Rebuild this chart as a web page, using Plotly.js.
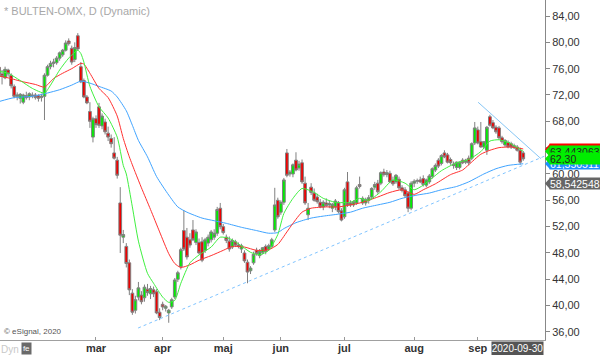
<!DOCTYPE html>
<html>
<head>
<meta charset="utf-8">
<script src="https://cdn.plot.ly/plotly-3.0.1.min.js"></script>
<style>html,body{margin:0;padding:0;background:#fff;}#chart{width:600px;height:355px;}</style>
</head>
<body>
<div id="chart"></div>
<script>
// Trading-day index: 0 = 2020-03-02 (first day of March); negative = Jan/Feb 2020
const firstIndex = -32;
const openP = [76.2,75.2,74.6,75.8,75.0,73.3,71.8,71.5,70.9,71.9,71.7,72.0,72.0,71.9,71.6,71.8,75.0,76.3,76.8,76.9,77.6,78.1,78.8,80.2,79.1,77.4,81.0,76.3,74.2,71.7,69.5,65.6,
68.4,70.2,67.3,67.9,66.2,65.4,63.2,62.1,55.6,50.4,49.0,46.5,41.9,39.3,41.3,41.6,41.2,42.5,41.8,42.4,42.1,39.0,40.2,39.6,38.9,39.8,41.3,44.0,45.9,
51.4,50.4,50.0,51.5,49.6,49.6,49.7,48.4,49.5,50.0,50.4,51.0,54.8,52.0,50.4,49.8,48.9,49.7,49.2,48.6,48.0,46.6,45.3,46.5,48.4,47.6,48.1,49.0,48.6,49.0,
51.5,56.0,54.2,55.7,63.2,60.0,60.0,62.1,60.9,61.7,58.6,53.8,58.0,57.1,56.5,55.7,55.0,55.6,55.3,54.8,55.0,55.6,54.4,
53.5,58.8,55.6,55.3,55.6,58.4,55.6,55.6,56.0,56.5,58.0,58.6,58.6,60.3,59.9,60.1,59.0,58.8,59.2,57.9,57.6,57.1,54.8,
58.6,58.9,59.1,59.3,58.3,58.8,59.6,60.6,62.1,61.6,63.2,62.9,62.2,61.5,61.0,61.0,62.1,61.8,62.4,62.4,64.7,
66.7,64.9,64.1,63.6,68.7,67.8,67.1,67.0,65.5,64.4,64.8,64.6,64.3,64.1,63.6,63.2];
const highP = [76.6,75.8,76.3,76.0,75.3,73.6,72.4,72.3,72.2,72.5,72.4,72.4,72.3,72.1,72.2,75.3,76.6,77.2,77.5,77.9,78.6,79.0,80.3,80.6,79.5,80.0,81.4,77.0,74.5,72.0,70.9,68.7,
68.9,70.8,69.2,68.4,67.2,66.0,65.6,62.6,58.0,51.5,49.5,47.0,42.5,41.5,43.6,42.2,43.2,43.3,43.0,42.9,42.5,39.6,40.6,40.1,39.5,41.2,44.2,45.3,48.8,
54.5,51.8,51.0,53.0,51.6,50.2,50.4,50.3,50.8,51.5,51.6,55.0,55.6,52.4,50.8,50.5,50.2,50.0,49.6,49.4,48.4,47.0,46.0,48.2,48.8,48.6,48.9,49.3,49.4,50.3,
57.9,56.4,56.0,59.4,63.8,60.6,61.6,63.3,62.0,62.2,59.6,55.6,58.6,57.8,57.0,56.2,56.0,56.3,56.0,55.6,56.2,55.9,54.8,
57.9,60.3,56.0,56.0,58.2,59.6,56.6,56.4,56.8,58.0,58.8,59.1,60.4,60.8,60.6,60.5,59.6,60.0,59.6,58.3,58.0,57.4,58.9,
59.2,59.3,59.6,59.8,59.3,60.0,61.0,61.6,62.4,63.0,63.6,63.2,62.5,61.9,61.9,61.9,62.4,62.3,62.8,64.8,67.9,
67.2,67.9,65.0,67.3,69.0,68.2,67.4,67.3,65.8,65.3,65.1,64.9,64.6,64.4,64.0,63.5];
const lowP = [74.9,73.6,74.4,74.8,73.0,71.5,71.2,70.7,70.6,71.3,71.2,71.5,71.3,71.0,71.0,68.2,74.8,75.9,76.2,76.6,77.2,77.8,78.6,79.5,76.6,77.0,78.7,73.8,71.5,70.6,67.0,64.8,
67.0,67.0,66.8,66.0,65.0,64.0,62.2,59.3,48.0,49.5,45.8,41.6,38.6,38.8,40.8,40.2,40.6,41.5,41.0,41.3,38.7,37.8,39.3,39.1,37.4,39.5,41.0,43.6,45.5,
48.3,47.0,48.8,49.8,49.2,47.8,46.6,48.0,49.0,49.6,50.0,50.6,51.6,50.8,49.5,48.2,48.6,48.9,48.7,48.0,46.5,43.4,44.8,46.2,47.6,47.2,47.8,47.8,48.3,48.8,
51.2,53.2,53.8,55.3,59.5,59.6,59.5,60.4,60.5,58.5,55.3,53.0,56.8,55.8,55.5,54.8,54.5,55.0,54.8,54.2,54.5,54.0,52.8,
53.2,55.0,55.0,55.0,55.3,57.8,55.3,55.2,55.5,56.2,57.6,57.0,58.3,59.6,59.5,58.6,58.2,58.5,57.6,57.2,56.4,54.2,54.5,
58.0,58.5,58.6,58.1,58.0,58.5,59.3,60.3,60.9,61.3,62.4,61.6,61.4,60.8,60.6,60.7,61.5,61.5,61.3,62.1,64.4,
64.5,64.0,63.8,62.9,67.2,66.8,66.1,65.2,64.6,64.1,63.9,63.8,63.8,63.4,61.4,62.0];
const closeP = [75.2,74.8,75.9,75.2,73.4,71.8,72.0,72.1,72.0,71.6,72.2,71.9,71.6,71.5,71.8,75.0,76.3,76.8,77.0,77.6,78.4,78.8,79.9,79.8,77.0,79.2,79.0,74.0,71.7,70.8,68.0,68.4,
67.5,67.4,68.8,66.4,65.6,64.6,62.4,59.8,50.7,50.8,46.4,42.4,39.0,40.9,42.7,40.6,42.8,42.0,42.6,41.8,38.9,38.2,39.8,39.9,39.3,40.9,43.9,45.0,48.5,
48.6,47.4,49.2,50.0,51.2,48.0,46.9,50.0,50.4,51.2,51.0,54.6,52.0,51.1,49.9,48.6,49.9,49.2,49.0,49.1,46.8,45.1,45.7,47.8,47.9,48.3,48.8,48.2,49.1,50.0,
55.3,53.5,55.7,59.1,59.8,60.3,61.4,60.6,61.5,58.8,55.6,54.8,57.2,56.0,55.8,55.0,55.7,55.2,55.5,55.4,55.9,54.3,53.0,
57.6,55.3,55.3,55.8,57.9,58.1,56.3,56.1,56.4,57.8,58.4,57.3,60.2,59.9,60.2,58.8,58.5,59.8,57.9,57.5,56.7,54.8,58.6,
58.9,59.0,58.8,58.4,59.1,59.7,60.8,61.3,61.2,62.8,62.6,61.8,61.7,61.3,61.8,61.8,61.7,62.1,61.7,64.6,67.0,
64.7,64.1,64.9,67.1,67.4,67.0,66.4,65.5,64.9,65.1,64.1,64.1,64.0,63.6,61.8,62.3];

// Moving averages (index, value)
const greenMaIdx = [-32,-29,-25,-21,-17,-15,-12,-9,-6,-5,-4,-2,1,4,7,9,10,12,14,17,19,22,24,26,28,31,34,38,41,44,47,51,54,57,60,62,65,68,72,75,79,84,87,90,94,98,102,105,108,111,114,119,123,127,130,133,136,141];
const greenMaVal = [75.6,75.3,74.2,73.0,72.3,73.5,75.8,77.6,78.8,78.3,77.0,73.3,70.2,68.5,65.6,61.3,60.0,55.0,49.8,44.9,43.4,41.3,40.5,40.8,43.4,46.5,47.7,48.9,50.4,50.2,49.4,48.1,47.7,48.4,50.8,54.0,56.3,57.8,57.2,56.3,55.7,55.7,56.3,56.0,57.3,59.1,58.6,57.6,58.3,59.4,60.5,61.7,62.2,63.4,65.0,65.2,64.8,63.44];
const redMaIdx = [-32,-29,-24,-20,-17,-14,-11,-8,-5,-4,-2,1,4,7,9,11,13,15,18,21,24,26,28,31,34,38,42,45,49,53,57,60,63,65,68,71,76,80,84,88,93,97,101,105,108,112,117,121,123,127,130,133,137,141];
const redMaVal = [74.9,74.6,74.0,73.6,73.2,74.5,75.3,76.0,76.8,76.7,75.3,73.0,71.6,68.8,65.4,62.6,60.2,57.9,54.6,51.2,47.9,46.4,45.8,46.2,46.9,47.6,48.4,49.0,48.9,48.4,48.5,49.3,51.2,52.5,54.2,54.8,55.0,55.0,55.3,55.7,56.5,57.2,57.6,56.9,57.6,58.5,59.9,60.6,61.4,63.0,63.6,64.0,64.1,63.8];
const blueMaIdx = [-32,-27,-21,-16,-12,-8,-5,-2,1,5,7,10,12,14,17,20,24,27,30,35,39,43,48,53,57,60,62,66,71,75,80,84,88,93,97,101,106,110,114,119,123,128,132,136,141];
const blueMaVal = [71.0,71.6,71.8,72.3,72.8,73.5,74.1,73.8,73.3,72.6,71.7,69.6,67.4,65.1,62.6,59.6,56.8,55.0,54.2,53.3,52.9,52.5,51.9,51.4,51.0,51.1,51.7,52.6,53.3,53.6,53.9,54.2,54.8,55.3,55.7,56.3,56.8,57.1,57.6,58.1,58.8,60.0,60.8,61.3,61.55];

// Trend lines (index, value)
const supportIdx = [13.9, 148.5];
const supportVal = [36.6, 62.8];
const resistIdx = [126.1, 146.9];
const resistVal = [70.9, 62.3];

// Axis ticks
const monthIdx = [0, 22, 42, 61, 82, 105, 126];
const monthText = ['mar','apr','maj','jun','jul','aug','sep'];
const priceTicks = [36,40,44,48,52,56,60,64,68,72,76,80,84];
const priceText = ['36,00','40,00','44,00','48,00','52,00','56,00','60,00','64,00','68,00','72,00','76,00','80,00','84,00'];

// Value tags on the price scale
const tagVals = [63.75, 61.55, 63.44, 62.30, 58.542548];
const tagText = ['63,750000', '61,550511', '63,443063', '62,30', '58,542548'];
const tagBg = ['#ff0000', '#1e90ff', '#00ee00', '#00ee00', '#666666'];
const tagFg = ['#ffffff', '#ffffff', '#222222', '#222222', '#ffffff'];

const xIdx = openP.map((_, i) => i + firstIndex);

const traces = [
  {type:'candlestick', x:xIdx, open:openP, high:highP, low:lowP, close:closeP,
   increasing:{line:{color:'#808080', width:1}, fillcolor:'#00ee00'},
   decreasing:{line:{color:'#808080', width:1}, fillcolor:'#ee0000'},
   whiskerwidth:0, hoverinfo:'skip', showlegend:false},
  {type:'scatter', mode:'lines', x:blueMaIdx, y:blueMaVal, line:{color:'#40a4ff', width:1, shape:'spline', smoothing:0.6}, hoverinfo:'skip', showlegend:false},
  {type:'scatter', mode:'lines', x:redMaIdx, y:redMaVal, line:{color:'#ff3030', width:1, shape:'spline', smoothing:0.6}, hoverinfo:'skip', showlegend:false},
  {type:'scatter', mode:'lines', x:greenMaIdx, y:greenMaVal, line:{color:'#40f040', width:1, shape:'spline', smoothing:0.6}, hoverinfo:'skip', showlegend:false},
  {type:'scatter', mode:'lines', x:supportIdx, y:supportVal, line:{color:'#80c4ff', width:1, dash:'dot'}, hoverinfo:'skip', showlegend:false},
  {type:'scatter', mode:'lines', x:resistIdx, y:resistVal, line:{color:'#86c6f5', width:1}, hoverinfo:'skip', showlegend:false}
];

const annotations = [
  {xref:'paper', yref:'paper', x:0, y:1, xanchor:'left', yanchor:'top', xshift:2, yshift:-3, showarrow:false,
   text:'* BULTEN-OMX, D (Dynamic)', font:{family:'Liberation Sans, Arial', size:11, color:'#a8a8a8'}},
  {xref:'paper', yref:'paper', x:0, y:0, xanchor:'left', yanchor:'bottom', xshift:2, yshift:2, showarrow:false,
   text:'© eSignal, 2020', font:{family:'Liberation Sans, Arial', size:8, color:'#555'}},
  {xref:'paper', yref:'paper', x:0, y:0, xanchor:'left', yanchor:'top', xshift:-1, yshift:-1, showarrow:false,
   text:'Dyn', height:13, font:{family:'Liberation Sans, Arial', size:10, color:'#c8c8c8'}},
  {xref:'paper', yref:'paper', x:21/545, y:0, xanchor:'left', yanchor:'top', yshift:-2, showarrow:false,
   text:'fe', bgcolor:'#6a6a6a', width:9, height:11, borderpad:0, font:{family:'Liberation Sans, Arial', size:8, color:'#fff'}},
  {xref:'paper', yref:'paper', x:544/545, y:0, xanchor:'right', yanchor:'top', yshift:-1, showarrow:false,
   text:'2020-09-30', bgcolor:'#555555', width:51, height:13, borderpad:0, font:{family:'Liberation Sans, Arial', size:10, color:'#fff'}}
];
const shapes = [];
tagVals.forEach((v, i) => {
  annotations.push({xref:'paper', yref:'y', x:1, y:v, xanchor:'left', yanchor:'middle', xshift:4, showarrow:false,
    text:tagText[i], bgcolor:tagBg[i], width:51, height:11, borderpad:0, align:'left',
    font:{family:'Liberation Sans, Arial', size:10.5, color:tagFg[i]}});
  shapes.push({type:'path', xref:'paper', yref:'y', layer:'above',
    path:`M 1,${v} L ${1+5/545},${v+0.85} L ${1+5/545},${v-0.85} Z`,
    fillcolor:tagBg[i], line:{width:0}});
});

const layout = {
  width:600, height:355,
  margin:{l:0, r:55, t:0, b:15, pad:0},
  paper_bgcolor:'#ffffff', plot_bgcolor:'#ffffff',
  showlegend:false,
  boxgap:0.05, boxgroupgap:0.05,
  xaxis:{type:'linear', range:[-31.68, 148.18], tickvals:monthIdx, ticktext:monthText,
    ticks:'inside', ticklen:3, tickcolor:'#999', showline:true, linecolor:'#a0a0a0', linewidth:1,
    ticklabelstandoff:-2,
    showgrid:false, zeroline:false, fixedrange:true, rangeslider:{visible:false},
    tickfont:{family:'Liberation Sans, Arial', size:11, color:'#333', weight:'bold'}},
  yaxis:{side:'right', range:[34.78, 86.43], tickvals:priceTicks, ticktext:priceText,
    ticks:'outside', ticklen:4, tickcolor:'#888', showline:true, linecolor:'#888', linewidth:1,
    showgrid:false, zeroline:false, fixedrange:true,
    tickfont:{family:'Liberation Sans, Arial', size:11, color:'#333'}},
  annotations:annotations,
  shapes:shapes
};

Plotly.newPlot('chart', traces, layout, {staticPlot:true, displayModeBar:false});
</script>
</body>
</html>
